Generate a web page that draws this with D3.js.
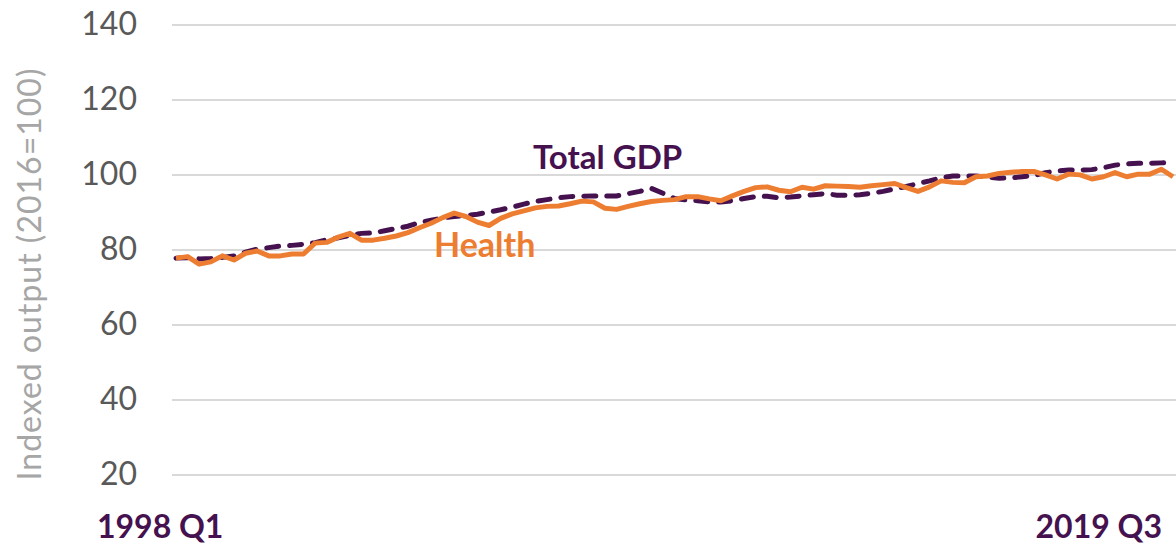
<!DOCTYPE html>
<html>
<head>
<meta charset="utf-8">
<script src="https://cdn.jsdelivr.net/npm/d3@7"></script>
<style>
  body { margin: 0; background: #fff; }
  svg { display: block; font-family: Lato, "Open Sans", sans-serif; }
</style>
</head>
<body>
<svg id="chart" width="1176" height="544"></svg>
<script>
// quarterly series, 1998 Q1 .. 2019 Q3 (87 quarters)
let firstQuarter = '1998 Q1'
let lastQuarter = '2019 Q3'
let yTicks = [20, 40, 60, 80, 100, 120, 140]

let gdp = [
  77.7, 77.8, 77.5, 77.6, 77.9, 78.3, 79.3, 80.1, 80.5, 80.9,
  81.1, 81.4, 81.8, 82.6, 83.1, 83.8, 84.3, 84.4, 85.0, 85.6,
  86.2, 87.2, 87.8, 88.4, 88.8, 89.1, 89.4, 90.0, 90.6, 91.3,
  92.1, 92.8, 93.3, 93.8, 94.1, 94.2, 94.3, 94.3, 94.3, 94.9,
  95.5, 96.3, 95.0, 93.6, 93.2, 93.0, 92.7, 92.7, 93.0, 93.6,
  94.1, 94.2, 93.8, 94.0, 94.3, 94.6, 94.9, 94.5, 94.5, 94.6,
  95.0, 95.5, 96.2, 96.8, 97.6, 98.3, 99.1, 99.6, 99.6, 99.6,
  99.3, 99.0, 99.1, 99.4, 99.7, 100.5, 100.9, 101.2, 101.2, 101.3,
  101.8, 102.5, 102.8, 103.0, 103.0, 103.1, 103.2
]

let health = [
  77.7, 78.1, 76.1, 76.7, 78.3, 77.2, 79.0, 79.6, 78.3, 78.3,
  78.8, 78.8, 81.7, 81.9, 83.3, 84.3, 82.5, 82.5, 83.0, 83.6,
  84.5, 85.8, 87.0, 88.5, 89.7, 88.8, 87.3, 86.4, 88.3, 89.5,
  90.3, 91.1, 91.5, 91.6, 92.2, 92.9, 92.7, 91.0, 90.7, 91.5,
  92.2, 92.8, 93.1, 93.3, 94.1, 94.1, 93.5, 93.0, 94.3, 95.5,
  96.5, 96.7, 95.8, 95.4, 96.6, 96.1, 97.0, 96.9, 96.8, 96.6,
  97.0, 97.3, 97.6, 96.5, 95.5, 96.7, 98.3, 97.9, 97.8, 99.4,
  99.6, 100.3, 100.6, 100.8, 100.8, 99.9, 98.8, 100.1, 99.9, 98.8,
  99.4, 100.5, 99.4, 100.1, 100.1, 101.4, 99.4
]

let purple = '#45114f'
let orange = '#ed7d31'

let svg = d3.select('#chart')

// Compute layout
let x = d3.scaleLinear([0, gdp.length - 1], [176, 1173])
let y = d3.scaleLinear([20, 140], [474.5, 24.5])

// gridlines + tick labels
let yAxis = d3.axisLeft(y).tickValues(yTicks).tickSize(-1004).tickPadding(35)
let gAxis = svg.append('g').attr('transform', 'translate(172,0)').call(yAxis)
gAxis.select('.domain').remove()
gAxis.selectAll('.tick line').attr('stroke', '#d9d9d9').attr('stroke-width', 2)
gAxis.selectAll('.tick text')
  .attr('fill', '#595959')
  .attr('font-size', 32)
  .attr('font-family', 'Lato, "Open Sans", sans-serif')

svg.append('text')
  .attr('transform', 'translate(41,274) rotate(-90)')
  .attr('text-anchor', 'middle')
  .attr('fill', '#a6a6a6')
  .attr('font-size', 32)
  .attr('letter-spacing', 1)
  .text('Indexed output (2016=100)')

// x labels, first and last quarter only
svg.append('text')
  .attr('x', 97).attr('y', 538)
  .attr('fill', purple).attr('font-size', 32).attr('font-weight', 700)
  .text(firstQuarter)
svg.append('text')
  .attr('x', 1162).attr('y', 538)
  .attr('text-anchor', 'end')
  .attr('fill', purple).attr('font-size', 32).attr('font-weight', 700)
  .text(lastQuarter)

// Draw lines
let line = d3.line().x((d, i) => x(i)).y((d) => y(d))

svg.append('path')
  .datum(gdp)
  .attr('d', line)
  .attr('fill', 'none')
  .attr('stroke', purple)
  .attr('stroke-width', 5)
  .attr('stroke-dasharray', '12,11')
  .attr('stroke-linecap', 'round')

svg.append('path')
  .datum(health)
  .attr('d', line)
  .attr('fill', 'none')
  .attr('stroke', orange)
  .attr('stroke-width', 5)
  .attr('stroke-linejoin', 'round')

// series labels
svg.append('text')
  .attr('x', 533).attr('y', 169)
  .attr('fill', purple).attr('font-size', 33).attr('font-weight', 700)
  .text('Total GDP')
svg.append('text')
  .attr('x', 434).attr('y', 257)
  .attr('fill', orange).attr('font-size', 34).attr('font-weight', 700)
  .text('Health')
</script>
</body>
</html>
